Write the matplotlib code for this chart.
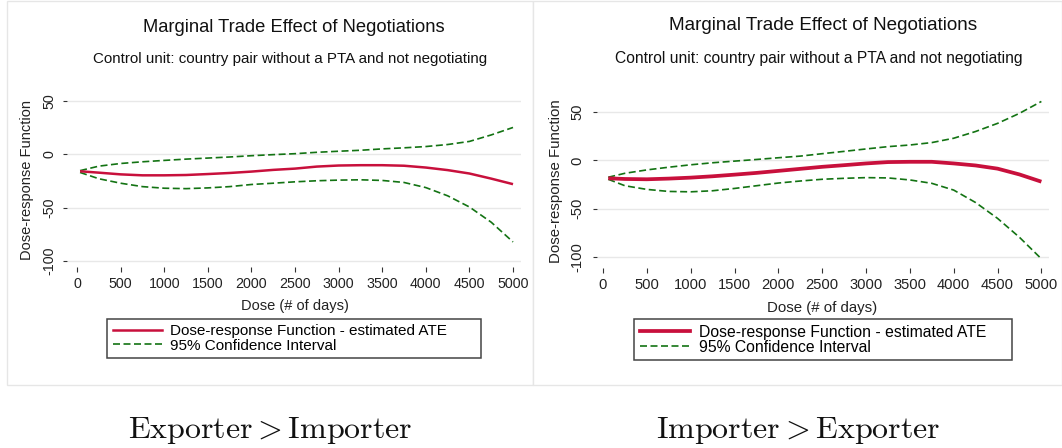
import matplotlib
matplotlib.use("Agg")
import matplotlib.pyplot as plt
from matplotlib.patches import Rectangle
from matplotlib.lines import Line2D

plt.rcParams['font.family'] = ['Liberation Sans', 'DejaVu Sans']
plt.rcParams['mathtext.fontset'] = 'cm'

# Left panel: Exporter > Importer
dose_l = [35, 250, 500, 750, 1000, 1250, 1500, 1750, 2000, 2250, 2500, 2750, 3000,
          3250, 3500, 3750, 4000, 4250, 4500, 4750, 5000]
ate_l = [-15.9, -17.2, -18.8, -19.7, -19.7, -19.4, -18.5, -17.5, -16.2, -14.6, -13.4,
         -11.5, -10.5, -10.2, -10.2, -10.7, -12.4, -14.8, -18.0, -22.8, -28.0]
up_l = [-15.3, -11.1, -8.6, -7.0, -5.7, -4.5, -3.5, -2.5, -1.3, -0.3, 0.6, 1.9, 2.9,
        3.8, 5.1, 6.1, 7.3, 9.2, 12.1, 18.2, 25.2]
lo_l = [-17.0, -22.9, -27.1, -30.3, -31.8, -32.2, -31.5, -30.3, -28.3, -27.1, -25.8,
        -24.8, -24.2, -23.9, -24.5, -26.4, -31.2, -38.9, -49.4, -63.7, -82.2]

# Right panel: Importer > Exporter
dose_r = [60, 250, 500, 750, 1000, 1250, 1500, 1750, 2000, 2250, 2500, 2750, 3000,
          3250, 3500, 3750, 4000, 4250, 4500, 4750, 5000]
ate_r = [-18.5, -19.2, -19.5, -18.8, -17.8, -16.4, -14.7, -12.9, -10.8, -8.7, -6.6,
         -4.9, -3.1, -1.7, -1.4, -1.4, -3.1, -5.2, -8.5, -14.5, -22.0]
up_r = [-17.4, -13.3, -9.8, -7.0, -4.5, -2.4, -0.7, 1.0, 2.8, 4.5, 7.0, 9.4, 11.9,
        14.3, 16.0, 18.5, 23.0, 30.0, 38.4, 48.8, 61.1]
lo_r = [-19.5, -26.2, -30.0, -32.1, -32.5, -31.4, -29.0, -26.2, -23.4, -21.3, -19.5,
        -18.5, -17.8, -18.1, -20.2, -23.7, -30.7, -43.6, -60.0, -79.6, -101.9]

xticks = [0, 500, 1000, 1500, 2000, 2500, 3000, 3500, 4000, 4500, 5000]
yticks = [50, 0, -50, -100]

title = "Marginal Trade Effect of Negotiations"
subtitle = "Control unit: country pair without a PTA and not negotiating"
xlabel = "Dose (# of days)"
ylabel = "Dose-response Function"
leg_labels = ["Dose-response Function - estimated ATE", "95% Confidence Interval"]
captions = [r"$\mathrm{Exporter} > \mathrm{Importer}$", r"$\mathrm{Importer} > \mathrm{Exporter}$"]

W, H = 1062, 448
DPI = 100
PT = 72 / DPI  # points per pixel
fig = plt.figure(figsize=(W / DPI, H / DPI), dpi=DPI)
fig.patch.set_facecolor('white')

RED = '#c8103c'
GREEN = '#137313'
DASH = (4.2, 2.1)


def fx(px):
    return px / W


def fy(py):
    return 1 - py / H


panels = [
    dict(dose=dose_l, ate=ate_l, up=up_l, lo=lo_l, box=(7, 1, 533, 385),
         ax=(67.6, 94, 520.6, 264), xlim=(-108, 5087), ylim=(-102.9, 56.6),
         leg=(107.3, 319, 481, 358), lw=1.8, tcx=294, scx=290.5, ty=27, sy=58.5,
         s=1.0, cap=270, ylx=27, ylc=180, xlx=294.6, xly=306, ylc_tick=49),
    dict(dose=dose_r, ate=ate_r, up=up_r, lo=lo_r, box=(533, 1, 1062, 385),
         ax=(598, 106, 1049, 265), xlim=(-57, 5087), ylim=(-108.3, 56.4),
         leg=(634.3, 319, 1011.7, 358.3), lw=2.7, tcx=822.6, scx=818.7, ty=25.5, sy=58.4,
         s=1.03, cap=798.5, ylx=556, ylc=181, xlx=822, xly=308, ylc_tick=577.5),
]

TICK_LEN_PX = 4.5
Y_OUT_PX = 1
X_OUT_PX = 3

for i, p in enumerate(panels):
    s = p['s']
    bx0, by0, bx1, by1 = p['box']
    fig.patches.append(Rectangle((fx(bx0), fy(by1)), fx(bx1 - bx0), (by1 - by0) / H,
                                 transform=fig.transFigure, facecolor='white',
                                 edgecolor='#e6e6e6', lw=1, zorder=-5))
    x0, y0, x1, y1 = p['ax']
    ax = fig.add_axes([fx(x0), fy(y1), fx(x1 - x0), (y1 - y0) / H])
    ax.set_facecolor('white')
    ax.plot(p['dose'], p['up'], color=GREEN, lw=1.2, dashes=DASH, clip_on=False)
    ax.plot(p['dose'], p['lo'], color=GREEN, lw=1.2, dashes=DASH, clip_on=False)
    ax.plot(p['dose'], p['ate'], color=RED, lw=p['lw'], solid_capstyle='butt',
            solid_joinstyle='round', clip_on=False)
    ax.set_xlim(*p['xlim'])
    ax.set_ylim(*p['ylim'])
    ax.set_xticks(xticks)
    ax.set_yticks(yticks)
    ax.grid(axis='y', color='#e8e8e8', lw=1)
    ax.set_axisbelow(True)
    for sp in ['top', 'right']:
        ax.spines[sp].set_visible(False)
    ax.spines['left'].set_position(('outward', Y_OUT_PX * PT))
    ax.spines['bottom'].set_position(('outward', X_OUT_PX * PT))
    for sp in ['left', 'bottom']:
        ax.spines[sp].set_color('none')
    ax.tick_params(axis='both', direction='out', length=TICK_LEN_PX * PT, width=0.8,
                   color='#333333', labelsize=10.3 * s, labelcolor='#222222')
    ax.tick_params(axis='x', pad=5.5 * PT)
    ax.tick_params(axis='y', pad=2 * PT, labelleft=False)
    ax.set_xlabel(xlabel, fontsize=10.5 * s, color='#222222')
    ax.xaxis.set_label_coords(fx(p['xlx']), fy(p['xly']), transform=fig.transFigure)
    ax.set_ylabel(ylabel, fontsize=10.5 * s, color='#222222')
    ax.yaxis.set_label_coords(fx(p['ylx']), fy(p['ylc']), transform=fig.transFigure)
    ax.xaxis.label.set_va('center')
    ax.yaxis.label.set_va('center')
    # y tick labels: rotated, centred at a fixed pixel column, at the tick's data y
    ytr = matplotlib.transforms.blended_transform_factory(fig.transFigure, ax.transData)
    for v in yticks:
        ax.text(fx(p['ylc_tick']), v, str(v), transform=ytr, rotation=90,
                ha='center', va='center', fontsize=10.3 * s, color='#222222')

    fig.text(fx(p['tcx']), fy(p['ty']), title, ha='center', va='center',
             fontsize=13.2 * s, color='#111111')
    fig.text(fx(p['scx']), fy(p['sy']), subtitle, ha='center', va='center',
             fontsize=10.9 * s, color='#111111')

    lx0, ly0, lx1, ly1 = p['leg']
    handles = [Line2D([], [], color=RED, lw=p['lw']),
               Line2D([], [], color=GREEN, lw=1.2, dashes=DASH)]
    leg = fig.legend(handles, leg_labels, loc='upper left', mode='expand',
                     bbox_to_anchor=(fx(lx0), fy(ly1), fx(lx1 - lx0), (ly1 - ly0) / H),
                     bbox_transform=fig.transFigure, fontsize=11 * s, frameon=True,
                     fancybox=False, edgecolor='#444444', framealpha=1,
                     handlelength=3.2, handletextpad=0.55, borderpad=0.35,
                     labelspacing=0.02, borderaxespad=0)
    leg.get_frame().set_linewidth(1.1)

    fig.text(fx(p['cap']), fy(430), captions[i], ha='center', va='center',
             fontsize=23, color='#111111')

fig.savefig('out.png', dpi=DPI)
